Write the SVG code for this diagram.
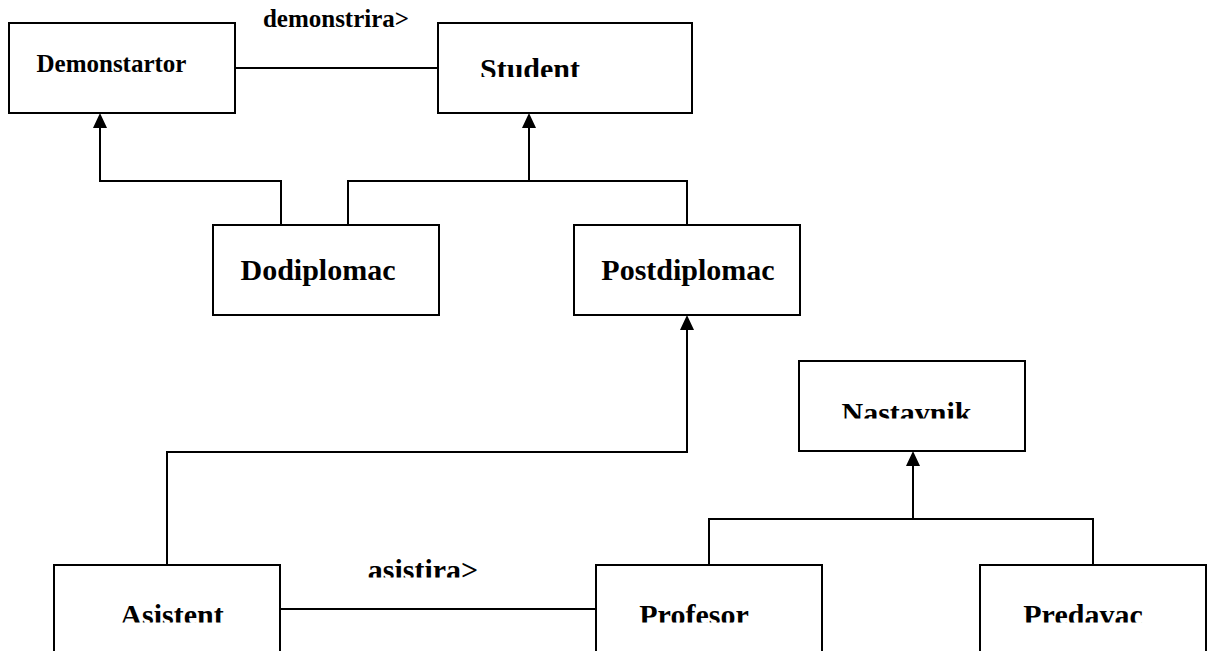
<svg xmlns="http://www.w3.org/2000/svg" width="1207" height="651" viewBox="0 0 1207 651">
  <style>
    .box { fill: #fff; stroke: #000; stroke-width: 2; }
    .lbl { font-family: "Liberation Serif", "Times New Roman", serif; font-weight: bold; fill: #000; text-anchor: middle; }
    .big { font-size: 30px; }
    .small { font-size: 25px; }
    .wire { fill: none; stroke: #000; stroke-width: 2; }
  </style>
  <defs>
    <!-- solid triangular head; the path ends at the head's base -->
    <marker id="tri" viewBox="0 0 15 14" refX="0" refY="7" markerWidth="15" markerHeight="14" markerUnits="userSpaceOnUse" orient="auto">
      <path d="M0,0 L15,7 L0,14 Z" fill="#000"/>
    </marker>
    <clipPath id="clipStudent"><rect x="438" y="0" width="254" height="77"/></clipPath>
    <clipPath id="clipNast"><rect x="799" y="361" width="226" height="57.5"/></clipPath>
    <clipPath id="clipRow"><rect x="0" y="560" width="1207" height="62.5"/></clipPath>
    <clipPath id="clipAsis"><rect x="300" y="540" width="250" height="37.5"/></clipPath>
  </defs>

  <g id="connectors">
    <!-- association Demonstartor - Student -->
    <line class="wire" x1="235" y1="68" x2="438" y2="68"/>
    <!-- association Asistent - Profesor -->
    <line class="wire" x1="280" y1="609" x2="596" y2="609"/>
    <!-- Dodiplomac -> Demonstartor -->
    <path class="wire" d="M281,225 V181 H100 V128" marker-end="url(#tri)"/>
    <!-- Dodiplomac / Postdiplomac -> Student -->
    <path class="wire" d="M348,225 V181 H687 V225"/>
    <path class="wire" d="M529,181 V128" marker-end="url(#tri)"/>
    <!-- Asistent -> Postdiplomac -->
    <path class="wire" d="M167,565 V452 H687 V330" marker-end="url(#tri)"/>
    <!-- Profesor / Predavac -> Nastavnik -->
    <path class="wire" d="M709,565 V519 H1093 V565"/>
    <path class="wire" d="M913,519 V466" marker-end="url(#tri)"/>
    <text class="lbl small" x="336" y="27">demonstrira&gt;</text>
    <text class="lbl big" x="423" y="580" clip-path="url(#clipAsis)">asistira&gt;</text>
  </g>

  <g id="demonstartor">
    <rect class="box" x="9" y="23" width="226" height="90"/>
    <text class="lbl small" x="111.5" y="72">Demonstartor</text>
  </g>
  <g id="student">
    <rect class="box" x="438" y="23" width="254" height="90"/>
    <text class="lbl big" x="530" y="79" clip-path="url(#clipStudent)">Student</text>
  </g>
  <g id="dodiplomac">
    <rect class="box" x="213" y="225" width="226" height="90"/>
    <text class="lbl big" x="318" y="280">Dodiplomac</text>
  </g>
  <g id="postdiplomac">
    <rect class="box" x="574" y="225" width="226" height="90"/>
    <text class="lbl big" x="688" y="280">Postdiplomac</text>
  </g>
  <g id="nastavnik">
    <rect class="box" x="799" y="361" width="226" height="90"/>
    <text class="lbl big" x="906.5" y="423" clip-path="url(#clipNast)">Nastavnik</text>
  </g>
  <g id="asistent">
    <rect class="box" x="54" y="565" width="226" height="95"/>
    <text class="lbl big" x="172" y="625" clip-path="url(#clipRow)">Asistent</text>
  </g>
  <g id="profesor">
    <rect class="box" x="596" y="565" width="226" height="95"/>
    <text class="lbl big" x="694" y="625" clip-path="url(#clipRow)">Profesor</text>
  </g>
  <g id="predavac">
    <rect class="box" x="980" y="565" width="226" height="95"/>
    <text class="lbl big" x="1083" y="625" clip-path="url(#clipRow)">Predavac</text>
  </g>
</svg>
